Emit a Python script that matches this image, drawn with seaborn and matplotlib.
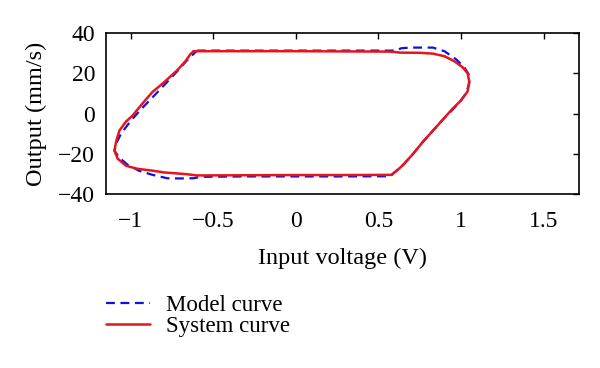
import numpy as np
import seaborn as sns
import matplotlib.pyplot as plt
from matplotlib.lines import Line2D

# model curve (blue dashed), traced clockwise from the upper-left corner
model_x = [-0.60, -0.30, 0.00, 0.30, 0.60, 0.64, 0.70, 0.83, 0.90, 0.97, 1.02, 1.05, 1.05,
           1.03, 0.99, 0.95, 0.89, 0.83, 0.77, 0.71, 0.65, 0.60, 0.57, 0.30, 0.00, -0.30,
           -0.58, -0.62, -0.70, -0.78, -0.87, -0.95, -1.02, -1.07, -1.10, -1.09, -1.06,
           -1.00, -0.94, -0.87, -0.80, -0.72, -0.66, -0.60]
model_y = [31.3, 31.3, 31.3, 31.3, 31.3, 32.5, 32.8, 32.8, 31.0, 27.0, 23.0, 19.0, 15.0,
           10.0, 5.5, 2.0, -3.0, -8.5, -14.0, -20.0, -25.5, -29.0, -31.2, -31.3, -31.3,
           -31.3, -31.5, -32.2, -32.3, -32.2, -30.5, -28.5, -25.5, -22.0, -18.5, -15.0,
           -10.0, -3.5, 2.0, 8.0, 14.0, 21.0, 26.5, 31.3]

# measured system curve (red solid)
system_x = [-0.62, -0.30, 0.00, 0.30, 0.57, 0.60, 0.63, 0.75, 0.83, 0.90, 0.96, 1.01, 1.04,
            1.05, 1.04, 1.00, 0.95, 0.89, 0.83, 0.77, 0.71, 0.65, 0.61, 0.58, 0.30, 0.00,
            -0.30, -0.60, -0.66, -0.72, -0.80, -0.88, -0.96, -1.03, -1.08, -1.10, -1.09,
            -1.07, -1.03, -0.99, -0.93, -0.87, -0.80, -0.72, -0.67, -0.64, -0.62]
system_y = [31.0, 31.0, 31.0, 30.9, 30.8, 30.6, 30.3, 30.2, 29.8, 28.5, 26.0, 23.0, 20.0,
            16.0, 11.0, 6.5, 2.5, -3.0, -8.5, -14.0, -20.0, -25.5, -28.5, -30.5, -30.6,
            -30.6, -30.7, -30.8, -30.2, -29.8, -29.3, -28.3, -27.5, -26.0, -22.5, -18.5,
            -14.0, -8.5, -4.0, -1.0, 5.0, 10.7, 15.5, 21.5, 26.0, 29.5, 31.0]

x_ticks = [-1, -0.5, 0, 0.5, 1, 1.5]
x_labels = ["\u22121", "\u22120.5", "0", "0.5", "1", "1.5"]
y_ticks = [-40, -20, 0, 20, 40]
y_labels = ["\u221240", "\u221220", "0", "20", "40"]

sns.set_theme(style="white")
plt.rcParams['font.family'] = ['Liberation Serif', 'DejaVu Serif']
plt.rcParams['text.color'] = 'black'
plt.rcParams['axes.labelcolor'] = 'black'
plt.rcParams['xtick.color'] = 'black'
plt.rcParams['ytick.color'] = 'black'

fig = plt.figure(figsize=(6, 3.68), dpi=100)
ax = fig.add_axes([0.177, 0.473, 0.788, 0.437])

sns.lineplot(x=model_x, y=model_y, sort=False, estimator=None, ax=ax,
             color="#1010e0", lw=1.6, dashes=False, linestyle=(0, (4, 2.5)))
sns.lineplot(x=system_x, y=system_y, sort=False, estimator=None, ax=ax,
             color="#e8141c", lw=1.8)

ax.set_xlim(-1.15, 1.715)
ax.set_ylim(-40, 40)
ax.set_xticks(x_ticks)
ax.set_xticklabels(x_labels)
ax.set_yticks(y_ticks)
ax.set_yticklabels(y_labels)
ax.tick_params(direction="in", length=4, width=1, color="black",
               top=True, right=True, labelsize=17)
ax.tick_params(axis="x", pad=12)
ax.tick_params(axis="y", pad=8)
for s in ax.spines.values():
    s.set_color("black")
    s.set_linewidth(1.2)
ax.set_xlabel("Input voltage (V)", fontsize=17.5, labelpad=12)
ax.set_ylabel("Output (mm/s)", fontsize=17.5, labelpad=8)

handles = [Line2D([], [], color="#1010e0", lw=1.6, linestyle=(0, (4, 2.5))),
           Line2D([], [], color="#e8141c", lw=1.8)]
fig.legend(handles, ["Model curve", "System curve"], loc="upper left",
           bbox_to_anchor=(0.143, 0.255), frameon=False, fontsize=16.5,
           handlelength=1.9, labelspacing=0.0, handletextpad=0.7)

fig.savefig("out.png", dpi=100)
